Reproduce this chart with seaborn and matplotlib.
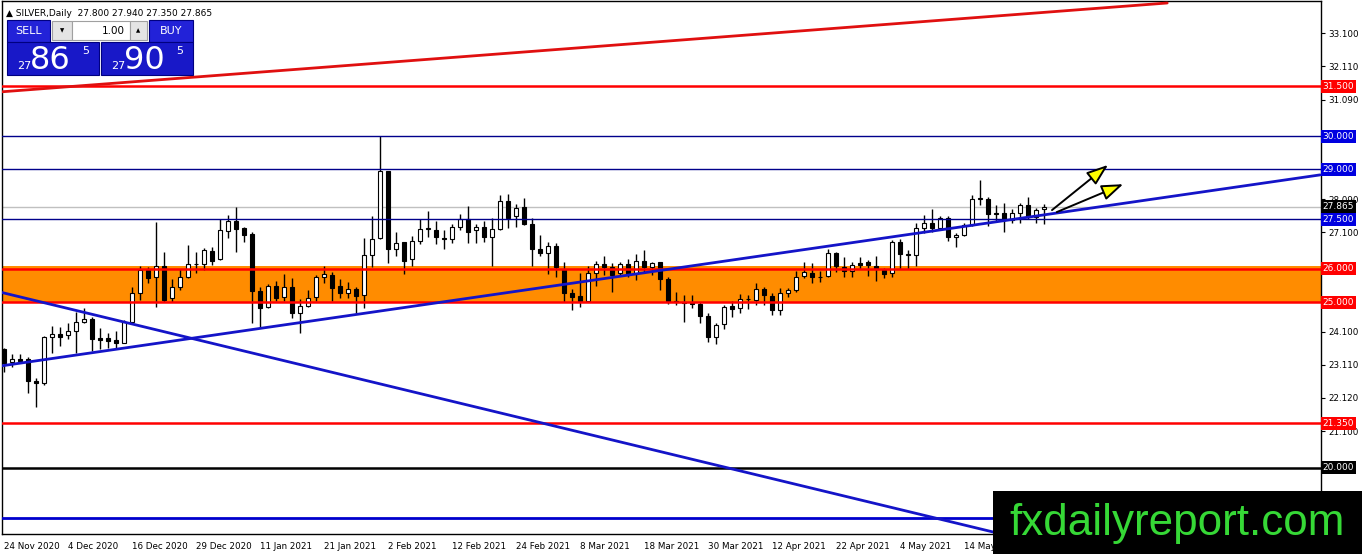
import numpy as np
import pandas as pd
import matplotlib
matplotlib.use('Agg')
import matplotlib.pyplot as plt
import matplotlib.transforms as mtransforms
from matplotlib.patches import Rectangle
import seaborn as sns

# ---------------------------------------------------------------------------
# Data (24 Nov 2020 - end of May 2021)
# ---------------------------------------------------------------------------
opens = [23.58, 23.19, 23.28, 23.28, 22.62, 22.56, 23.95, 24.04, 24.01, 24.13,
         24.40, 24.49, 23.92, 23.92, 23.86, 23.77, 24.40, 25.27, 25.96, 25.75,
         26.08, 25.12, 25.45, 25.75, 26.14, 26.14, 26.54, 26.30, 27.14, 27.44,
         27.23, 27.05, 25.33, 24.85, 25.48, 25.15, 25.45, 24.67, 24.88, 25.15,
         25.75, 25.81, 25.48, 25.27, 25.39, 25.21, 26.42, 26.93, 28.95, 26.60,
         26.81, 26.30, 26.84, 27.20, 27.17, 26.93, 26.90, 27.26, 27.50, 27.17,
         27.26, 26.96, 27.20, 28.04, 27.59, 27.86, 27.35, 26.60, 26.48, 26.69,
         25.99, 25.27, 25.18, 25.03, 25.87, 26.14, 26.05, 25.87, 26.14, 25.87,
         26.23, 26.05, 26.20, 25.69, 25.03, 25.00, 24.97, 24.94, 24.58, 23.95,
         24.34, 24.88, 24.82, 25.09, 25.06, 25.39, 25.18, 24.76, 25.27, 25.36,
         25.78, 25.87, 25.76, 25.78, 26.48, 26.05, 25.93, 26.17, 26.20, 26.08,
         25.96, 25.87, 26.81, 26.42, 26.42, 27.23, 27.38, 27.23, 27.53, 26.96,
         27.02, 27.32, 28.10, 28.10, 27.68, 27.68, 27.47, 27.68, 27.92, 27.56,
         27.80]
highs = [23.62, 23.43, 23.43, 23.34, 22.71, 23.98, 24.28, 24.25, 24.37, 24.70,
         24.82, 24.55, 24.22, 24.07, 24.13, 24.46, 25.45, 26.08, 26.05, 27.41,
         26.51, 25.69, 26.00, 26.72, 26.51, 26.63, 26.66, 27.50, 27.62, 27.86,
         27.26, 27.11, 25.45, 25.54, 25.63, 25.84, 25.72, 25.09, 25.36, 25.81,
         26.08, 25.90, 25.69, 25.60, 25.45, 26.93, 27.59, 30.00, 28.95, 27.11,
         26.81, 26.99, 27.50, 27.74, 27.44, 27.17, 27.35, 27.65, 27.89, 27.35,
         27.44, 27.53, 28.22, 28.25, 27.95, 28.13, 27.53, 27.02, 26.81, 26.78,
         26.20, 25.39, 25.87, 26.08, 26.23, 26.39, 26.17, 26.20, 26.30, 26.45,
         26.57, 26.20, 26.20, 25.75, 25.30, 25.21, 25.21, 25.00, 24.67, 24.37,
         24.91, 25.03, 25.24, 25.21, 25.57, 25.45, 25.27, 25.42, 25.42, 25.93,
         26.20, 26.17, 25.93, 26.60, 26.51, 26.36, 26.20, 26.36, 26.27, 26.39,
         26.02, 26.87, 26.90, 26.57, 27.38, 27.62, 27.80, 27.59, 27.59, 27.08,
         27.38, 28.22, 28.67, 28.16, 27.92, 27.98, 27.80, 27.98, 28.16, 27.83,
         27.94]
lows = [22.89, 23.04, 23.16, 22.26, 21.84, 22.50, 23.46, 23.67, 23.89, 23.46,
        24.37, 23.52, 23.58, 23.62, 23.62, 23.77, 24.40, 25.06, 25.57, 24.85,
        25.00, 25.00, 25.36, 25.72, 25.87, 25.96, 26.11, 26.27, 26.93, 26.51,
        26.81, 24.37, 24.22, 24.82, 25.03, 25.03, 24.52, 24.07, 24.85, 25.03,
        25.57, 25.03, 25.12, 25.12, 24.67, 24.82, 26.05, 26.90, 26.17, 26.39,
        25.84, 26.08, 26.75, 26.96, 26.75, 26.60, 26.78, 27.17, 26.78, 26.78,
        26.81, 26.08, 27.17, 27.23, 27.26, 27.32, 26.08, 26.39, 25.84, 25.75,
        25.00, 24.76, 24.85, 25.00, 25.48, 25.81, 25.30, 25.81, 25.75, 25.66,
        25.87, 25.81, 25.36, 24.94, 24.91, 24.40, 24.82, 24.37, 23.80, 23.73,
        24.19, 24.55, 24.67, 24.79, 24.91, 24.91, 24.61, 24.61, 25.15, 25.30,
        25.72, 25.57, 25.60, 25.75, 25.90, 25.75, 25.75, 26.00, 25.78, 25.63,
        25.72, 25.75, 26.00, 26.00, 26.08, 27.08, 27.11, 27.17, 26.84, 26.66,
        26.99, 27.29, 27.92, 27.29, 27.41, 27.11, 27.38, 27.38, 27.50, 27.38,
        27.35]
closes = [23.16, 23.28, 23.22, 22.62, 22.56, 23.95, 24.04, 23.95, 24.13, 24.40,
          24.49, 23.89, 23.86, 23.83, 23.77, 24.40, 25.27, 25.96, 25.72, 26.08,
          25.06, 25.45, 25.75, 26.14, 26.16, 26.57, 26.23, 27.17, 27.44, 27.20,
          27.02, 25.33, 24.82, 25.48, 25.12, 25.45, 24.67, 24.88, 25.12, 25.75,
          25.84, 25.42, 25.27, 25.39, 25.18, 26.42, 26.90, 28.95, 26.60, 26.78,
          26.23, 26.84, 27.20, 27.23, 26.96, 26.90, 27.26, 27.50, 27.11, 27.26,
          26.96, 27.20, 28.04, 27.53, 27.83, 27.35, 26.60, 26.48, 26.69, 26.05,
          25.27, 25.15, 25.03, 25.87, 26.14, 26.05, 25.81, 26.14, 25.87, 26.23,
          26.05, 26.17, 25.69, 25.00, 25.00, 24.97, 24.94, 24.58, 23.95, 24.31,
          24.85, 24.79, 25.09, 25.10, 25.39, 25.21, 24.76, 25.27, 25.36, 25.75,
          25.90, 25.75, 25.75, 26.48, 26.08, 25.93, 26.11, 26.11, 26.11, 26.02,
          25.84, 26.81, 26.45, 26.44, 27.23, 27.38, 27.23, 27.53, 26.96, 27.02,
          27.32, 28.10, 28.12, 27.65, 27.65, 27.47, 27.68, 27.92, 27.56, 27.77,
          27.865]

date_labels = ['24 Nov 2020', '4 Dec 2020', '16 Dec 2020', '29 Dec 2020',
               '11 Jan 2021', '21 Jan 2021', '2 Feb 2021', '12 Feb 2021',
               '24 Feb 2021', '8 Mar 2021', '18 Mar 2021', '30 Mar 2021',
               '12 Apr 2021', '22 Apr 2021', '4 May 2021', '14 May 2021']
bars_per_label = 8

# scale values that are not covered by the coloured level tags
price_ticks = [33.100, 32.110, 31.090, 28.090, 27.100,
               24.100, 23.110, 22.120, 21.100]

red_levels = [31.5, 26.0, 25.0, 21.35]
navy_levels = [30.0, 29.0, 27.5]
black_levels = [20.0]
blue_levels = [18.5]
zone_low, zone_high = 24.96, 26.10

# trend lines: (bar index pair, price pair)
upper_channel = ([-0.5, 145.4], [31.33, 34.01])
rising_support = ([-0.5, 164.5], [23.07, 28.83])
falling_line = ([-0.5, 130.0], [25.30, 17.70])

arrow_starts = [(131.0, 27.77), (131.6, 27.71)]
arrow_tips = [(138.0, 29.13), (139.9, 28.55)]

last_price = 27.865
sell_quote = ('27', '86', '5')
buy_quote = ('27', '90', '5')
lot_size = '1.00'

# ---------------------------------------------------------------------------
W, H = 1362, 554
sns.set_style('white')
plt.rcParams['font.family'] = ['DejaVu Sans']

fig = plt.figure(figsize=(W / 100, H / 100), dpi=100)
fig.patch.set_facecolor('white')
ax = fig.add_axes([2 / W, 20 / H, 1319 / W, 533 / H])


def fx(px):
    return px / W


def fy(py):
    return 1 - py / H


o = np.array(opens)
h = np.array(highs)
l = np.array(lows)
c = np.array(closes)
x = np.arange(len(o))
up = c >= o

# orange support zone (background)
ax.axhspan(zone_low, zone_high, color='#ff8c00', zorder=0.5, lw=0)

# current price line
ax.axhline(last_price, color='#c0c0c0', lw=1, zorder=1)

# candles
ax.vlines(x, l, h, color='black', lw=1, zorder=2)
body_bottom = np.minimum(o, c)
body_height = np.maximum(np.abs(c - o), 0.012)
ax.bar(x, body_height, bottom=body_bottom, width=0.6,
       color=np.where(up, 'white', 'black'), edgecolor='black',
       linewidth=0.8, zorder=3)

# horizontal levels
for lv in red_levels:
    ax.axhline(lv, color='#ff0000', lw=1.8, zorder=4)
for lv in navy_levels:
    ax.axhline(lv, color='#00008b', lw=1, zorder=4)
for lv in black_levels:
    ax.axhline(lv, color='black', lw=1.8, zorder=4)
for lv in blue_levels:
    ax.axhline(lv, color='#0000cd', lw=2, zorder=4)

# trend lines
trend = pd.DataFrame({
    'bar': upper_channel[0] + rising_support[0] + falling_line[0],
    'price': upper_channel[1] + rising_support[1] + falling_line[1],
    'line': ['upper'] * 2 + ['rising'] * 2 + ['falling'] * 2,
})
sns.lineplot(data=trend, x='bar', y='price', hue='line', sort=False,
             palette={'upper': '#e01010', 'rising': '#1414c8', 'falling': '#1414c8'},
             linewidth=2, legend=False, ax=ax, zorder=4)

# arrows
for s, t in zip(arrow_starts, arrow_tips):
    ax.annotate('', xy=t, xytext=s,
                arrowprops=dict(arrowstyle='-|>,head_length=1.1,head_width=0.4',
                                fc='#ffff00', ec='black', lw=1.4,
                                mutation_scale=12, shrinkA=0, shrinkB=0),
                zorder=5)

# axes limits / ticks
ax.set_xlim(-0.25, 164.625)
ax.set_ylim(18.01, 34.07)
ax.set_xlabel('')
ax.set_ylabel('')
for sp in ax.spines.values():
    sp.set_color('black')
    sp.set_linewidth(1)

ax.yaxis.tick_right()
ax.set_yticks(price_ticks)
ax.set_yticklabels([f'{v:.3f}' for v in price_ticks])
tick_pos = [i * bars_per_label for i in range(len(date_labels))]
ax.set_xticks(tick_pos)
ax.set_xticklabels(date_labels, ha='left')
ax.tick_params(axis='both', direction='out', length=3, width=0.8,
               labelsize=6.3, colors='black', pad=2)
ax.tick_params(axis='x', pad=3)

# coloured price labels on the right scale
blend = mtransforms.blended_transform_factory(ax.transAxes, ax.transData)
tags = [(v, '#ff0000') for v in red_levels] + \
       [(v, '#0000e0') for v in navy_levels] + \
       [(v, 'black') for v in black_levels] + [(last_price, 'black')]
for v, col in tags:
    ax.text(1.0013, v, f'{v:.3f}', transform=blend, ha='left', va='center',
            fontsize=6.5, color='white', clip_on=False, zorder=6,
            bbox=dict(boxstyle='square,pad=0.22', fc=col, ec='none'))

# header
header = '\u25b2 SILVER,Daily  ' + ' '.join(
    f'{v:.3f}' for v in (opens[-1], highs[-1], lows[-1], closes[-1]))
ax.text(0.003, 0.985, header, transform=ax.transAxes, ha='left', va='top',
        fontsize=6.5, color='black', zorder=7)


# one-click trading panel
def box(x0, y0, x1, y1, fc, ec='none', lw=0.8):
    fig.add_artist(Rectangle((fx(x0), fy(y1)), (x1 - x0) / W, (y1 - y0) / H,
                             transform=fig.transFigure, fc=fc, ec=ec, lw=lw, zorder=10))


box(7, 20, 50, 42, '#2222d8', '#000080')
box(149, 20, 193, 42, '#2222d8', '#000080')
box(52, 21, 72, 40, '#e4e4e4', '#a0a0a0')
box(72, 21, 130, 40, 'white', '#a0a0a0')
box(130, 21, 147, 40, '#e4e4e4', '#a0a0a0')
box(7, 42, 99, 75, '#1818c8', '#000080')
box(101, 42, 193, 75, '#1818c8', '#000080')

fig.text(fx(28.5), fy(31), 'SELL', color='white', fontsize=8, ha='center', va='center', zorder=11)
fig.text(fx(171), fy(31), 'BUY', color='white', fontsize=8, ha='center', va='center', zorder=11)
fig.text(fx(62), fy(30.5), '\u25bc', color='black', fontsize=4, ha='center', va='center', zorder=11)
fig.text(fx(138.5), fy(30.5), '\u25b2', color='black', fontsize=4, ha='center', va='center', zorder=11)
fig.text(fx(125), fy(30.5), lot_size, color='black', fontsize=7.5, ha='right', va='center', zorder=11)

for (big, mid, sup), x0 in [(sell_quote, 7), (buy_quote, 101)]:
    fig.text(fx(x0 + 10), fy(69), big, color='white', fontsize=8, ha='left', va='baseline', zorder=11)
    fig.text(fx(x0 + 23), fy(69), mid, color='white', fontsize=23, ha='left', va='baseline', zorder=11)
    fig.text(fx(x0 + 75), fy(54), sup, color='white', fontsize=8, ha='left', va='baseline', zorder=11)

# watermark
box(993, 491, W + 2, H + 2, 'black')
fig.text(fx(1177.5), fy(535), 'fxdailyreport.com', color='#36d836',
         fontsize=31.7, family=['Liberation Sans', 'DejaVu Sans'],
         ha='center', va='baseline', zorder=11)

fig.savefig('out.png', dpi=100, facecolor='white')
